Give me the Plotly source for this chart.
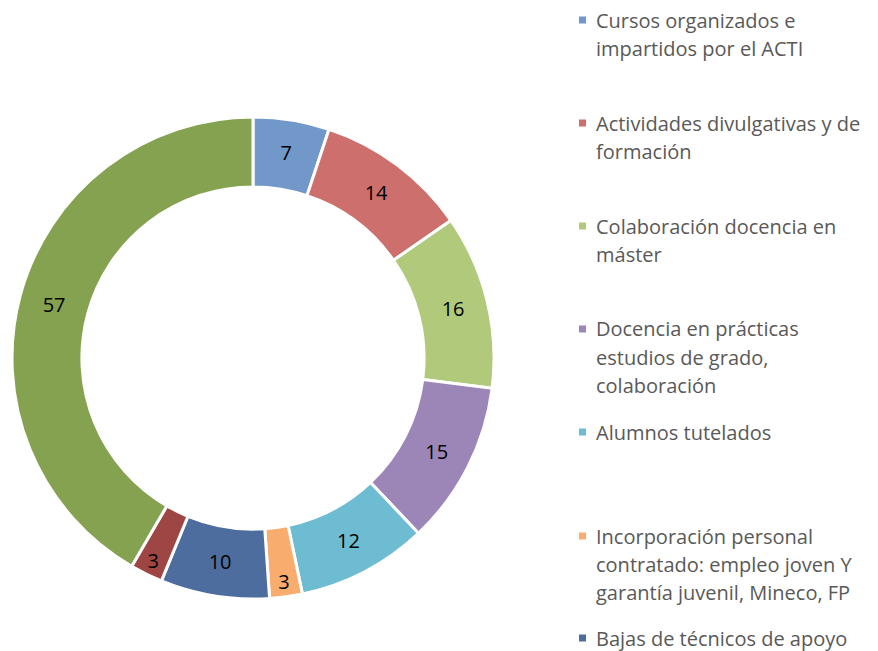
import plotly.graph_objects as go

labels = [
    "Cursos organizados e impartidos por el ACTI",
    "Actividades divulgativas y de formación",
    "Colaboración docencia en máster",
    "Docencia en prácticas estudios de grado, colaboración",
    "Alumnos tutelados",
    "Incorporación personal contratado: empleo joven Y garantía juvenil, Mineco, FP",
    "Bajas de técnicos de apoyo",
    "Otros (a)",
    "Otros (b)",
]
values = [7, 14, 16, 15, 12, 3, 10, 3, 57]
colors = ["#7298C9", "#CD6F6C", "#B0C97B", "#9B86B7", "#6EBCD2",
          "#F8AC6D", "#4D6D9E", "#9E4644", "#84A24F"]

legend_lines = [
    ["Cursos organizados e", "impartidos por el ACTI"],
    ["Actividades divulgativas y de", "formación"],
    ["Colaboración docencia en", "máster"],
    ["Docencia en prácticas", "estudios de grado,", "colaboración"],
    ["Alumnos tutelados"],
    ["Incorporación personal", "contratado: empleo joven Y", "garantía juvenil, Mineco, FP"],
    ["Bajas de técnicos de apoyo"],
]
legend_colors = colors[:7]
legend_first_y = [20, 123, 226, 329, 432, 536, 638]

# page body has an 8px margin; figure coordinates = reference pixels - OFF
OFF = 8
W, H = 870, 643
FONT = "'Open Sans', sans-serif"


def px_x(x):
    return (x - OFF) / W


def px_y(y):
    return 1 - (y - OFF) / H


fig = go.Figure()
fig.add_trace(go.Pie(
    labels=labels,
    values=values,
    sort=False,
    direction="clockwise",
    rotation=0,
    hole=0.71,
    marker=dict(colors=colors, line=dict(color="white", width=3)),
    textinfo="value",
    textposition="inside",
    insidetextorientation="horizontal",
    textfont=dict(family=FONT, size=20, color="black"),
    domain=dict(x=[px_x(12), px_x(494)], y=[px_y(600), px_y(116)]),
    showlegend=False,
    hoverinfo="label+value",
))

shapes = []
annotations = []
line_gap = 28.3
for lines, col, y0 in zip(legend_lines, legend_colors, legend_first_y):
    shapes.append(dict(
        type="rect", xref="paper", yref="paper",
        x0=px_x(579), x1=px_x(586), y0=px_y(y0 + 3.5), y1=px_y(y0 - 3.5),
        fillcolor=col, line=dict(width=0),
    ))
    for i, t in enumerate(lines):
        yy = y0 + i * line_gap
        annotations.append(dict(
            text=t, xref="paper", yref="paper",
            x=px_x(594), y=px_y(yy), xanchor="left", yanchor="middle",
            showarrow=False,
            font=dict(family=FONT, size=20, color="#595959"),
        ))

fig.update_layout(
    width=W, height=H,
    margin=dict(l=0, r=0, t=0, b=0),
    paper_bgcolor="white",
    plot_bgcolor="white",
    shapes=shapes,
    annotations=annotations,
    uniformtext=dict(minsize=20, mode="show"),
)

fig.write_html("out.html")
